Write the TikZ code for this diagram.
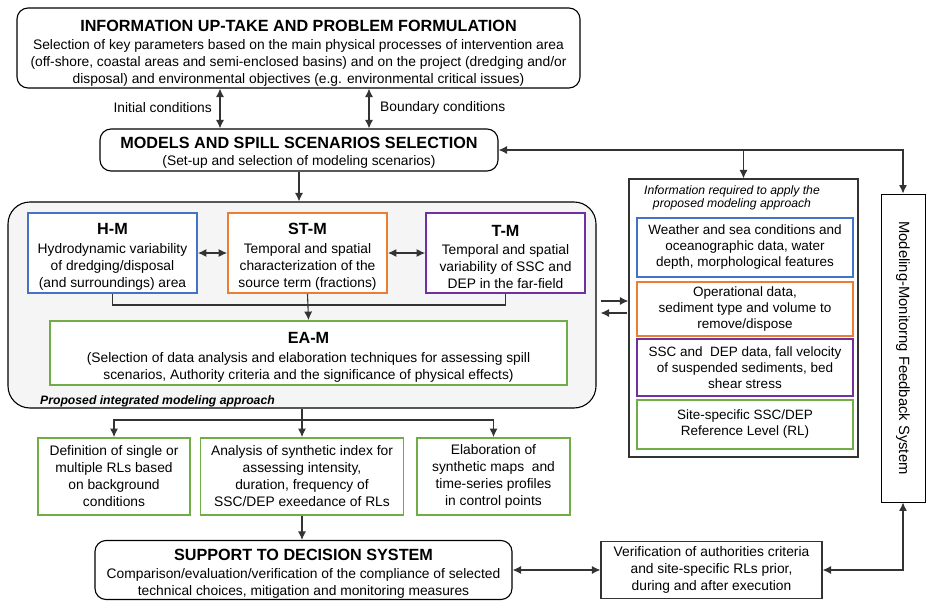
\documentclass[tikz,border=0pt]{standalone}
\usepackage{fontspec}
\setmainfont{Liberation Sans}
\usetikzlibrary{arrows.meta,calc}
\definecolor{cblue}{HTML}{4472C4}
\definecolor{corange}{HTML}{ED7D31}
\definecolor{cpurple}{HTML}{7030A0}
\definecolor{cgreen}{HTML}{70AD47}
\definecolor{cgrayfill}{HTML}{F5F5F5}
\definecolor{cdark}{HTML}{333333}
\newcommand\bodyfs{\fontsize{13.8}{17}\selectfont}
\newcommand\titlefs{\fontsize{16.2}{18}\selectfont\bfseries}
\newcommand\panelfs{\fontsize{13.5}{16}\selectfont}
\begin{document}
\begin{tikzpicture}[x=1pt,y=-1pt,
  rbox/.style={draw=black, line width=1.1pt, rounded corners=11pt, fill=white, inner sep=0pt},
  cbox/.style={draw=#1, line width=1.8pt, fill=white, inner sep=0pt},
  pbox/.style={draw=#1, line width=1.5pt, fill=white, align=center, inner sep=0pt, font=\panelfs},
  sbox/.style={draw=cdark, line width=1.1pt, fill=white, align=center, inner sep=0pt, font=\bodyfs},
  txt/.style={align=center, inner sep=0pt, font=\bodyfs},
  arr/.style={-{Latex[length=8.5pt,width=8pt]}, line width=1.1pt, draw=cdark},
  darr/.style={{Latex[length=8.5pt,width=8pt]}-{Latex[length=8.5pt,width=8pt]}, line width=1.1pt, draw=cdark},
  lbl/.style={font=\bodyfs, inner sep=0pt}
]
\useasboundingbox (0,0) rectangle (927,605);

% top
\node[rbox, minimum width=563pt, minimum height=80pt] (top) at (298.5,48) {};
\node[txt] (topt) at ($(top.center)+(0,5.5)$)
 {{\titlefs INFORMATION UP-TAKE AND PROBLEM FORMULATION}\\[1.5pt]
  Selection of key parameters based on the main physical processes of intervention area\\
  (off-shore, coastal areas and semi-enclosed basins) and on the project (dredging and/or\\
  disposal) and environmental objectives (e.g. environmental critical issues)};

\node[rbox, minimum width=398pt, minimum height=42pt] (models) at (299,150) {};
\node[txt] (modelst) at ($(models.center)+(0,3)$)
 {{\titlefs MODELS AND SPILL SCENARIOS SELECTION}\\
  (Set-up and selection of modeling scenarios)};

\coordinate (ic) at (220,108);
\coordinate (bc) at (369,108);
\node[lbl, anchor=east] (icl) at (212,108) {Initial conditions};
\node[lbl, anchor=west] (bcl) at (380,108) {Boundary conditions};
\draw[darr] (ic |- top.south) -- (ic |- models.north);
\draw[darr] (bc |- top.south) -- (bc |- models.north);

% integrated approach
\node[draw=black, line width=1.1pt, rounded corners=22pt, fill=cgrayfill, minimum width=588pt, minimum height=206pt, inner sep=0pt] (integ) at (302,305) {};
\draw[arr] (models.south) -- (models.south |- integ.north);

\node[cbox=cblue, minimum width=169pt, minimum height=80pt] (hm) at (112.5,253) {};
\node[txt] (hmt) at ($(hm.center)+(0,4)$)
 {{\titlefs H-M}\\[1.5pt] Hydrodynamic variability\\ of dredging/disposal\\ (and surroundings) area};
\node[cbox=corange, minimum width=159pt, minimum height=80pt] (stm) at (307.5,253) {};
\node[txt] (stmt) at ($(stm.center)+(0,4)$)
 {{\titlefs ST-M}\\[1.5pt] Temporal and spatial\\ characterization of the\\ source term (fractions)};
\node[cbox=cpurple, minimum width=159pt, minimum height=80pt] (tm) at (505.5,253) {};
\node[txt] (tmt) at ($(tm.center)+(0,4)$)
 {{\titlefs T-M}\\[1.5pt] Temporal and spatial\\ variability of SSC and\\ DEP in the far-field};
\draw[darr] (hm.east) -- (stm.west);
\draw[darr] (stm.east) -- (tm.west);

\node[cbox=cgreen, minimum width=517pt, minimum height=64pt] (eam) at (308.5,353) {};
\node[txt] (eamt) at ($(eam.center)+(0,4.5)$)
 {{\titlefs EA-M}\\[1.5pt] (Selection of data analysis and elaboration techniques for assessing spill\\ scenarios, Authority criteria and the significance of physical effects)};

\coordinate (jn) at (307.5,305);
\draw[line width=1.1pt, draw=cdark] (hm.south) |- (jn) -| (tm.south);
\draw[arr] (stm.south) -- (eam.north);

\node[anchor=west, inner sep=0pt, font=\fontsize{12.2}{14}\selectfont\bfseries\itshape] (pial) at (40,401) {Proposed integrated modeling approach};

% outputs
\node[cbox=cgreen, minimum width=152pt, minimum height=77pt] (b1) at (114,476.5) {};
\node[txt] (b1t) at (b1.center)
 {Definition of single or\\ multiple RLs based\\ on background\\ conditions};
\node[cbox=cgreen, minimum width=203pt, minimum height=77pt] (b2) at (302,476.5) {};
\node[txt] (b2t) at (b2.center)
 {Analysis of synthetic index for\\ assessing intensity,\\ duration, frequency of\\ SSC/DEP exeedance of RLs};
\node[cbox=cgreen, minimum width=153pt, minimum height=77pt] (b3) at (493.5,476.5) {};
\node[txt] (b3t) at (b3.center)
 {Elaboration of\\ synthetic maps\ \ and\\ time-series profiles\\ in control points};

\coordinate (br) at (302,420);
\draw[line width=1.1pt, draw=cdark] (br |- integ.south) -- (br);
\draw[arr] (br) -| (b1.north);
\draw[arr] (br) -| (b3.north);
\draw[arr] (br) -- (b2.north);

\node[rbox, minimum width=417pt, minimum height=59pt] (sds) at (303.5,570) {};
\node[txt] (sdst) at ($(sds.center)+(0,4)$)
 {{\titlefs SUPPORT TO DECISION SYSTEM}\\[1pt]
  Comparison/evaluation/verification of the compliance of selected\\
  technical choices, mitigation and monitoring measures};
\draw[arr] (b2.south) -- (b2.south |- sds.north);

\node[sbox, minimum width=221pt, minimum height=57pt] (ver) at (711.5,570)
 {Verification of authorities criteria\\ and site-specific RLs prior,\\ during and after execution};
\draw[darr] (sds.east) -- (ver.west);

% right panel
\node[sbox, minimum width=229pt, minimum height=278pt] (info) at (743.5,318) {};
\node[inner sep=0pt, align=center, font=\fontsize{12.2}{13.5}\selectfont\itshape, anchor=north] (infot) at (732,185)
 {Information required to apply the\\ proposed modeling approach};
\node[pbox=cblue, minimum width=216pt, minimum height=59pt] (p1) at (745,247.5)
 {Weather and sea conditions and\\ oceanographic data, water\\ depth, morphological features};
\node[pbox=corange, minimum width=216pt, minimum height=54pt] (p2) at (745,309)
 {Operational data,\\ sediment type and volume to\\ remove/dispose};
\node[pbox=cpurple, minimum width=216pt, minimum height=57pt] (p3) at (745,367.5)
 {SSC and\ \ DEP data, fall velocity\\ of suspended sediments, bed\\ shear stress};
\node[pbox=cgreen, minimum width=216pt, minimum height=49pt] (p4) at (745,424.5)
 {Site-specific SSC/DEP\\ Reference Level (RL)};

\draw[arr] ($(integ.east)+(4,-4)$) -- ($(integ.east -| info.west)+(0,-4)$);
\draw[arr] ($(integ.east -| info.west)+(-1,8)$) -- ($(integ.east)+(4,8)$);

% feedback
\node[draw=black, line width=0.9pt, fill=white, minimum width=44pt, minimum height=308pt, inner sep=0pt] (fb) at (903,348) {};
\node[rotate=-90, inner sep=0pt, font=\fontsize{14.8}{16}\selectfont] (fbt) at (fb.center) {Modeling-Monitorng Feedback System};

\coordinate (tj) at (info.north |- models.east);
\draw[arr] (tj) -- (models.east);
\draw[arr] (tj) -- (info.north);
\draw[arr] (tj) -| (fb.north);
\draw[darr] (ver.east) -| (fb.south);
\end{tikzpicture}
\end{document}
